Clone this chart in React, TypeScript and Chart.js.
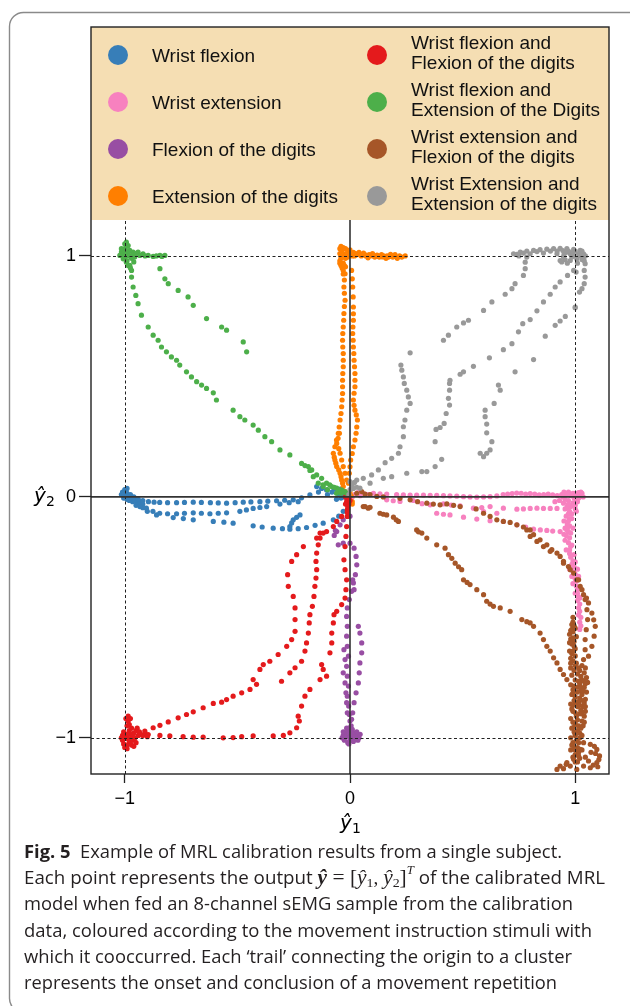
import React, { useEffect, useRef } from "react";
import { Chart, registerables } from "chart.js";

Chart.register(...registerables);

type P = [number, number];

const SERIES_NAMES: string[][] = [
  ["Wrist flexion"],
  ["Wrist extension"],
  ["Flexion of the digits"],
  ["Extension of the digits"],
  ["Wrist flexion and", "Flexion of the digits"],
  ["Wrist flexion and", "Extension of the Digits"],
  ["Wrist extension and", "Flexion of the digits"],
  ["Wrist Extension and", "Extension of the digits"],
];
const SERIES_COLORS = ["#377eb8", "#f781bf", "#984ea3", "#ff7f00", "#e41a1c", "#4daf4a", "#a65628", "#999999"];

const X_TICKS = [-1, 0, 1];
const X_TICK_LABELS = ["\u22121", "0", "1"];
const Y_TICKS = [-1, 0, 1];
const Y_TICK_LABELS = ["\u22121", "0", "1"];

const WRIST_FLEXION: P[] = [
  [-1.01, 0.02], [-1.0, 0.03], [-0.99, 0.015], [-1.0, 0.0], [-0.985, 0.005], [-0.97, -0.005], [-0.99, -0.01], [-0.96, -0.005],
  [-1.015, 0.01], [-0.995, 0.025], [-0.975, 0.01], [-0.95, -0.01], [-0.965, -0.02], [-0.945, -0.025], [-0.98, -0.015], [-1.005, -0.005],
  [-0.99, 0.0], [-0.975, -0.005], [-0.955, -0.015], [-0.935, -0.02], [-0.935, -0.03], [-0.92, -0.03], [-0.92, -0.045], [-0.95, -0.035],
  [-0.99, 0.035], [-1.005, 0.015], [-0.96, 0.0], [-0.94, -0.01],
  [-0.92, -0.015], [-0.895, -0.02], [-0.87, -0.022], [-0.845, -0.023], [-0.81, -0.024], [-0.77, -0.024], [-0.735, -0.023], [-0.696, -0.022],
  [-0.66, -0.023], [-0.62, -0.024], [-0.585, -0.025], [-0.548, -0.026], [-0.51, -0.024], [-0.474, -0.022], [-0.44, -0.021], [-0.4, -0.02],
  [-0.365, -0.018], [-0.326, -0.016], [-0.29, -0.014], [-0.252, -0.012], [-0.215, -0.004], [-0.178, 0.008], [-0.14, 0.02], [-0.104, 0.029],
  [-0.07, 0.032], [-0.044, 0.032],
  [-0.904, -0.047], [-0.875, -0.06], [-0.845, -0.068], [-0.81, -0.07], [-0.77, -0.07], [-0.735, -0.068], [-0.696, -0.066], [-0.66, -0.068],
  [-0.622, -0.07], [-0.585, -0.068], [-0.548, -0.066], [-0.489, -0.06], [-0.46, -0.054], [-0.43, -0.048], [-0.4, -0.044], [-0.37, -0.04],
  [-0.311, -0.03], [-0.27, -0.024], [-0.23, -0.02],
  [-0.933, -0.04], [-0.9, -0.06], [-0.859, -0.075], [-0.785, -0.086], [-0.74, -0.09], [-0.696, -0.095], [-0.607, -0.102], [-0.56, -0.105],
  [-0.519, -0.109], [-0.43, -0.12], [-0.39, -0.125], [-0.341, -0.13], [-0.3, -0.132], [-0.267, -0.134], [-0.23, -0.132], [-0.193, -0.127],
  [-0.155, -0.118], [-0.119, -0.109], [-0.074, -0.095], [-0.05, -0.08], [-0.03, -0.06],
  [-0.267, -0.123], [-0.259, -0.108], [-0.252, -0.095], [-0.237, -0.085], [-0.222, -0.075],
  [-0.03, 0.0], [-0.05, 0.01], [-0.08, 0.02], [-0.015, -0.005], [-0.06, -0.01], [-0.1, 0.01], [-0.148, 0.043], [-0.126, 0.035],
  [-0.02, 0.01], [-0.04, -0.005], [-0.01, 0.0],
];

const WRIST_EXTENSION: P[] = [
  [1.0, 0.0], [1.01, 0.01], [0.99, 0.015], [1.02, 0.005], [0.98, 0.005], [0.96, 0.008], [0.94, 0.01], [0.97, -0.015],
  [0.99, -0.025], [1.0, -0.035], [1.01, -0.02], [1.03, 0.015], [0.92, 0.005], [0.9, 0.008], [0.88, 0.012], [0.86, 0.01],
  [0.84, 0.008], [0.82, 0.012], [0.8, 0.014], [0.78, 0.012], [0.76, 0.015], [0.74, 0.016], [0.72, 0.014], [0.7, 0.012],
  [0.68, 0.01], [1.025, 0.02], [1.035, 0.0], [0.955, -0.01], [0.93, -0.015], [0.91, -0.02], [0.95, 0.02], [0.97, 0.02],
  [0.985, 0.01], [1.0, 0.015], [1.015, 0.018], [0.965, 0.015], [0.945, 0.0], [0.995, -0.005], [1.015, -0.005], [0.98, -0.04],
  [0.965, -0.045], [1.005, -0.06], [0.985, -0.07], [0.975, -0.12], [0.98, -0.15], [0.985, -0.2], [0.995, -0.24], [1.0, -0.27],
  [1.01, -0.3], [1.015, -0.33], [1.02, -0.42], [1.025, -0.5],
  [0.965, -0.04], [0.97, -0.07], [0.975, -0.09], [0.965, -0.115], [0.97, -0.145], [0.975, -0.17], [0.98, -0.205], [0.975, -0.235],
  [0.99, -0.265], [0.995, -0.29], [1.0, -0.32], [1.005, -0.35], [1.01, -0.385], [1.015, -0.415], [1.02, -0.445], [1.02, -0.475],
  [1.025, -0.535], [0.985, -0.09], [0.99, -0.13], [0.955, -0.13], [0.95, -0.155],
  [0.059, 0.015], [0.104, 0.015], [0.133, 0.013], [0.163, 0.012], [0.207, 0.01], [0.237, 0.008], [0.267, 0.007], [0.296, 0.007],
  [0.326, 0.007], [0.356, 0.006], [0.385, 0.006], [0.415, 0.005], [0.444, 0.004], [0.474, 0.003], [0.504, 0.001], [0.533, 0.0],
  [0.563, -0.001], [0.593, 0.0], [0.622, 0.001], [0.652, 0.004],
  [0.163, -0.012], [0.192, -0.016], [0.222, -0.019], [0.281, -0.015], [0.32, -0.028], [0.356, -0.033], [0.415, -0.029], [0.45, -0.034],
  [0.489, -0.037], [0.548, -0.047], [0.585, -0.044], [0.622, -0.04], [0.681, -0.047], [0.741, -0.051], [0.77, -0.05], [0.8, -0.048],
  [0.83, -0.047], [0.859, -0.048], [0.889, -0.048], [0.919, -0.048], [0.948, -0.026],
  [0.385, -0.068], [0.415, -0.072], [0.444, -0.075], [0.504, -0.084], [0.563, -0.092], [0.593, -0.061], [0.622, -0.099], [0.652, -0.068],
  [0.681, -0.102], [0.741, -0.116], [0.78, -0.125], [0.815, -0.134], [0.845, -0.137], [0.874, -0.139], [0.9, -0.142], [0.933, -0.144],
  [0.963, -0.137],
  [0.02, 0.01], [0.035, 0.018], [0.045, 0.005], [0.08, 0.01], [0.01, 0.0],
  [0.97, -0.03], [0.975, -0.06], [0.96, -0.08], [0.97, -0.1], [0.965, -0.13], [0.96, -0.16], [0.97, -0.19], [0.975, -0.22],
  [0.98, -0.25], [0.985, -0.28], [0.99, -0.31], [1.0, -0.34], [1.005, -0.37], [1.01, -0.4], [1.01, -0.43], [1.015, -0.46],
  [1.015, -0.49], [1.02, -0.52], [1.02, -0.55], [0.99, -0.36], [1.0, -0.4], [0.985, -0.33], [0.975, -0.3], [0.955, -0.05],
  [0.95, -0.1], [0.955, -0.18], [0.96, -0.22], [1.0, -0.05], [1.005, -0.02],
];

const FLEXION_DIGITS: P[] = [
  [-0.005, -0.02], [-0.01, -0.05], [0.0, -0.08], [-0.03, -0.095], [-0.044, -0.116], [-0.059, -0.144], [-0.07, -0.16], [-0.065, -0.14],
  [-0.052, -0.199], [-0.03, -0.192], [0.0, -0.192], [0.018, -0.213], [0.027, -0.247], [0.03, -0.282], [0.024, -0.323], [0.015, -0.357],
  [0.007, -0.392], [-0.003, -0.426], [-0.012, -0.461], [-0.015, -0.496], [-0.012, -0.537], [-0.015, -0.578], [-0.012, -0.62], [-0.007, -0.661],
  [-0.015, -0.703], [-0.012, -0.744], [-0.007, -0.785], [-0.012, -0.827], [-0.006, -0.868], [-0.003, -0.903], [0.0, -0.93],
  [0.012, -0.344], [0.018, -0.385], [0.037, -0.537], [0.044, -0.565], [0.052, -0.606], [0.052, -0.647], [0.044, -0.689], [0.041, -0.73],
  [0.037, -0.772], [0.027, -0.813], [0.018, -0.854], [0.012, -0.896], [0.007, -0.923],
  [-0.027, -0.634], [-0.022, -0.675], [-0.03, -0.73], [-0.022, -0.772], [-0.018, -0.813], [-0.015, -0.854], [-0.012, -0.896],
  [-0.03, -0.99], [-0.02, -0.98], [-0.01, -0.97], [0.0, -0.99], [0.01, -1.0], [0.02, -0.98], [0.03, -0.99], [0.04, -1.0],
  [-0.025, -1.01], [-0.01, -1.02], [0.0, -1.01], [0.015, -1.015], [-0.005, -0.96], [0.005, -0.95], [0.0, -0.975], [-0.035, -1.0],
  [0.045, -0.985], [0.025, -1.005], [-0.015, -0.995], [-0.02, -0.995], [0.0, -1.0], [0.01, -0.985], [0.02, -0.995], [0.035, -1.01],
  [-0.03, -0.975], [-0.015, -0.96], [0.01, -0.965], [0.03, -0.975], [-0.005, -1.025],
];

const EXTENSION_DIGITS: P[] = [
  [-0.045, 1.03], [-0.035, 1.02], [-0.02, 1.03], [-0.01, 1.02], [0.0, 1.01], [0.01, 1.0], [0.02, 1.0], [0.03, 1.005],
  [0.05, 1.0], [0.07, 1.0], [0.09, 1.0], [0.11, 0.995], [0.13, 0.995], [0.15, 1.0], [0.17, 0.995], [0.19, 0.995],
  [0.21, 0.99], [0.23, 0.995], [0.245, 1.0], [0.2, 1.005], [0.1, 1.01], [0.06, 1.012], [-0.04, 1.0], [-0.045, 0.98],
  [-0.04, 0.96], [-0.03, 0.97], [-0.02, 0.99], [-0.035, 0.95], [-0.03, 0.94], [-0.02, 0.955], [-0.045, 1.01], [0.0, 1.025],
  [0.04, 1.015], [0.14, 1.005], [0.08, 0.992], [0.18, 1.006], [-0.025, 1.005], [0.015, 1.015], [0.12, 1.003], [0.16, 0.99],
  [-0.04, 1.04], [-0.03, 1.035], [-0.015, 1.01], [-0.04, 0.99], [-0.01, 0.995], [0.005, 1.005], [0.025, 1.01], [0.045, 1.005],
  [0.065, 1.006], [0.085, 1.005], [0.105, 1.0], [0.125, 0.998], [0.145, 0.996], [0.165, 1.0], [0.185, 0.998], [0.22, 1.0],
  [-0.045, 0.97], [-0.025, 0.96], [-0.03, 0.925],
  [-0.022, 0.926], [-0.025, 0.9], [-0.027, 0.871], [-0.025, 0.845], [-0.022, 0.816], [-0.025, 0.79], [-0.027, 0.761], [-0.028, 0.733],
  [-0.03, 0.705], [-0.032, 0.678], [-0.033, 0.65], [-0.032, 0.622], [-0.03, 0.595], [-0.03, 0.567], [-0.03, 0.54], [-0.032, 0.512],
  [-0.033, 0.484], [-0.033, 0.457], [-0.033, 0.429], [-0.035, 0.402], [-0.037, 0.374], [-0.04, 0.346], [-0.044, 0.319], [-0.048, 0.29],
  [-0.052, 0.264], [-0.06, 0.236], [-0.067, 0.208], [-0.074, 0.181], [-0.07, 0.165], [-0.067, 0.153], [-0.063, 0.14], [-0.059, 0.126],
  [-0.05, 0.112], [-0.044, 0.098], [-0.04, 0.084], [-0.037, 0.07], [-0.033, 0.057], [-0.03, 0.043], [-0.022, 0.022],
  [-0.047, 0.264], [-0.053, 0.243], [-0.059, 0.222], [-0.05, 0.2], [-0.044, 0.181], [-0.037, 0.153], [-0.03, 0.126], [-0.022, 0.098],
  [-0.015, 0.07],
  [0.007, 0.94], [0.01, 0.905], [0.012, 0.871], [0.014, 0.83], [0.015, 0.788], [0.015, 0.76], [0.015, 0.733], [0.013, 0.705],
  [0.012, 0.678], [0.014, 0.65], [0.015, 0.622], [0.017, 0.595], [0.018, 0.567], [0.02, 0.54], [0.022, 0.512], [0.022, 0.484],
  [0.022, 0.457], [0.018, 0.43], [0.015, 0.402], [0.018, 0.38], [0.022, 0.36], [0.028, 0.34], [0.033, 0.319], [0.03, 0.29],
  [0.027, 0.264], [0.022, 0.236], [0.015, 0.208], [0.01, 0.18], [0.003, 0.153], [0.0, 0.125], [-0.003, 0.098], [-0.007, 0.057],
  [0.0, 0.02], [-0.01, 0.01], [0.005, 0.005], [0.01, -0.02], [0.01, -0.03],
];

const WF_FLEX_DIGITS: P[] = [
  [-1.0, -0.99], [-0.99, -1.0], [-1.01, -1.01], [-0.98, -1.02], [-0.99, -1.03], [-1.0, -1.04], [-0.97, -1.0], [-0.96, -0.98],
  [-0.98, -0.97], [-0.99, -0.95], [-0.985, -0.93], [-0.985, -0.91], [-0.97, -0.96], [-0.95, -0.97], [-0.94, -0.99], [-0.96, -1.01],
  [-1.005, -0.975], [-0.975, -1.015], [-0.955, -1.0], [-0.93, -0.985], [-0.92, -0.99], [-1.01, -0.99], [-0.99, -1.045], [-0.975, -0.985],
  [-1.0, -1.0], [-0.985, -1.005], [-0.97, -1.03], [-1.005, -1.025], [-0.965, -0.99], [-0.945, -0.96], [-0.935, -0.975], [-0.99, -0.985],
  [-1.015, -1.0], [-0.98, -0.945], [-0.975, -0.92], [-0.995, -0.92], [-0.95, -1.02], [-0.96, -1.035], [-0.91, -0.98], [-0.9, -0.995],
  [-0.896, -0.986], [-0.844, -0.99], [-0.8, -0.992], [-0.741, -0.995], [-0.696, -0.997], [-0.652, -0.997], [-0.563, -1.0], [-0.519, -0.999],
  [-0.481, -0.995], [-0.43, -0.992], [-0.341, -0.992], [-0.296, -0.99], [-0.267, -0.979], [-0.237, -0.958], [-0.225, -0.93], [-0.23, -0.91],
  [-0.215, -0.868], [-0.2, -0.827], [-0.178, -0.799], [-0.133, -0.758], [-0.104, -0.744], [-0.119, -0.716], [-0.126, -0.696], [-0.089, -0.647],
  [-0.081, -0.606], [-0.081, -0.565], [-0.074, -0.523], [-0.071, -0.489], [-0.059, -0.475], [-0.037, -0.447], [-0.022, -0.42], [-0.018, -0.385],
  [-0.015, -0.344], [-0.022, -0.302], [-0.027, -0.261], [-0.022, -0.206], [-0.018, -0.164], [-0.015, -0.123], [-0.012, -0.081], [-0.012, -0.054],
  [-0.911, -0.972], [-0.874, -0.958], [-0.844, -0.948], [-0.807, -0.934], [-0.763, -0.917], [-0.726, -0.903], [-0.696, -0.892], [-0.652, -0.875],
  [-0.607, -0.857], [-0.57, -0.852], [-0.548, -0.841], [-0.519, -0.827], [-0.481, -0.813], [-0.444, -0.799], [-0.415, -0.778], [-0.43, -0.758],
  [-0.4, -0.716], [-0.385, -0.696], [-0.356, -0.682], [-0.319, -0.654], [-0.281, -0.62], [-0.259, -0.592], [-0.244, -0.558], [-0.244, -0.509],
  [-0.244, -0.461], [-0.252, -0.413], [-0.274, -0.371], [-0.277, -0.323], [-0.259, -0.268], [-0.237, -0.24], [-0.207, -0.206], [-0.148, -0.171],
  [-0.133, -0.15], [-0.104, -0.144], [-0.074, -0.123], [-0.059, -0.102], [-0.037, -0.081],
  [-0.304, -0.765], [-0.267, -0.73], [-0.244, -0.709], [-0.215, -0.682], [-0.2, -0.64], [-0.193, -0.606], [-0.185, -0.565], [-0.181, -0.523],
  [-0.178, -0.489], [-0.167, -0.454], [-0.16, -0.413], [-0.156, -0.371], [-0.151, -0.337], [-0.148, -0.302], [-0.151, -0.268], [-0.148, -0.233],
  [-0.141, -0.199], [-0.133, -0.171], [-0.119, -0.15],
  [-0.01, -0.01], [-0.015, -0.02], [-0.005, -0.03], [-0.02, 0.0], [-0.01, -0.04], [-0.005, 0.0], [-0.012, -0.065], [-0.02, -0.03],
  [-0.005, -0.005], [-0.015, 0.005], [0.0, -0.015],
];

const WF_EXT_DIGITS: P[] = [
  [-0.993, 1.057], [-0.985, 1.043], [-1.0, 1.03], [-1.015, 1.016], [-1.022, 1.002], [-1.007, 0.988], [-0.993, 0.974], [-0.978, 0.961],
  [-0.97, 0.94], [-0.985, 1.009], [-0.963, 1.016], [-0.941, 1.016], [-0.919, 1.009], [-0.896, 1.002], [-0.874, 0.998], [-0.844, 1.002],
  [-0.822, 1.002], [-0.933, 1.002], [-0.956, 0.995], [-1.0, 0.995], [-0.978, 1.023], [-1.007, 1.009], [-0.99, 1.0], [-0.97, 0.99],
  [-0.99, 1.04], [-1.0, 1.05], [-0.995, 1.02], [-1.01, 1.0], [-0.98, 1.0], [-0.965, 1.005], [-0.95, 1.01], [-0.99, 0.98],
  [-0.985, 0.96], [-0.975, 0.95], [-0.91, 1.0], [-0.86, 1.0], [-0.835, 0.998], [-1.015, 1.03], [-0.96, 0.975],
  [-0.97, 0.912], [-0.963, 0.871], [-0.951, 0.836], [-0.941, 0.802], [-0.926, 0.754], [-0.896, 0.705], [-0.874, 0.671], [-0.852, 0.65],
  [-0.837, 0.622], [-0.815, 0.602], [-0.793, 0.581], [-0.77, 0.567], [-0.756, 0.547], [-0.726, 0.519], [-0.704, 0.498], [-0.681, 0.478],
  [-0.659, 0.464], [-0.637, 0.45], [-0.607, 0.432], [-0.593, 0.402], [-0.519, 0.36], [-0.489, 0.333], [-0.467, 0.319], [-0.43, 0.298],
  [-0.407, 0.277], [-0.378, 0.25], [-0.348, 0.229], [-0.311, 0.195], [-0.267, 0.174], [-0.215, 0.139], [-0.185, 0.126], [-0.17, 0.112],
  [-0.148, 0.091], [-0.126, 0.077], [-0.104, 0.057], [-0.081, 0.043], [-0.059, 0.036], [-0.037, 0.029], [-0.022, 0.022],
  [-0.163, 0.084], [-0.141, 0.057], [-0.119, 0.043], [-0.2, 0.13], [-0.178, 0.11],
  [-0.844, 0.947], [-0.822, 0.905], [-0.807, 0.885], [-0.763, 0.857], [-0.719, 0.83], [-0.696, 0.795], [-0.637, 0.74], [-0.57, 0.705],
  [-0.548, 0.692], [-0.474, 0.643], [-0.459, 0.602],
  [-0.07, 0.04], [-0.05, 0.03], [-0.09, 0.05], [-0.03, 0.02], [-0.1, 0.03], [-0.12, 0.05], [-0.06, 0.015], [-0.04, 0.015],
  [-0.015, 0.015],
];

const WE_FLEX_DIGITS: P[] = [
  [0.052, 0.022], [0.067, 0.012], [0.089, 0.01], [0.119, 0.002], [0.148, 0.0], [0.067, -0.04], [0.081, -0.047], [0.03, 0.015],
  [0.059, -0.04], [0.089, -0.043], [0.133, -0.068], [0.148, -0.072], [0.163, -0.075], [0.193, -0.084], [0.205, -0.095], [0.215, -0.102],
  [0.296, -0.137], [0.304, -0.145], [0.319, -0.15], [0.341, -0.171], [0.385, -0.199], [0.422, -0.213], [0.437, -0.24], [0.452, -0.255],
  [0.467, -0.275], [0.482, -0.29], [0.496, -0.302], [0.504, -0.344], [0.52, -0.355], [0.533, -0.364], [0.563, -0.385], [0.593, -0.406],
  [0.607, -0.433], [0.622, -0.445], [0.637, -0.454], [0.667, -0.461], [0.711, -0.475], [0.763, -0.509], [0.785, -0.518], [0.8, -0.523],
  [0.815, -0.537], [0.844, -0.565], [0.859, -0.592], [0.874, -0.62], [0.889, -0.64], [0.904, -0.668], [0.919, -0.689], [0.933, -0.716],
  [0.948, -0.737], [0.963, -0.758],
  [0.222, -0.006], [0.267, -0.012], [0.3, -0.02], [0.341, -0.026], [0.37, -0.03], [0.4, -0.033], [0.43, -0.029], [0.46, -0.035],
  [0.489, -0.04], [0.56, -0.05], [0.593, -0.068], [0.622, -0.081], [0.652, -0.095], [0.681, -0.102], [0.711, -0.106], [0.741, -0.116],
  [0.77, -0.125], [0.8, -0.137], [0.815, -0.157], [0.844, -0.178], [0.874, -0.199], [0.896, -0.219], [0.919, -0.233], [0.948, -0.268],
  [0.97, -0.289], [0.993, -0.316], [1.015, -0.344], [1.022, -0.371], [1.037, -0.406], [1.05, -0.42], [1.059, -0.44], [1.074, -0.482],
  [1.082, -0.51], [1.089, -0.537], [1.084, -0.578], [1.074, -0.62], [1.059, -0.661],
  [0.785, -0.137], [0.8, -0.164], [0.83, -0.185], [0.859, -0.206], [0.889, -0.226], [0.933, -0.247], [0.948, -0.275], [0.978, -0.302],
  [1.007, -0.344], [1.03, -0.385], [1.044, -0.426], [1.052, -0.468], [1.055, -0.509], [1.049, -0.551], [1.044, -0.592], [1.044, -0.634],
  [1.037, -0.675],
  [0.985, -0.53], [0.99, -0.56], [0.98, -0.59], [0.995, -0.62], [0.985, -0.65], [0.99, -0.68], [0.98, -0.71], [1.0, -0.7],
  [1.02, -0.72], [1.04, -0.73], [0.985, -0.74], [1.0, -0.76], [1.03, -0.76], [1.05, -0.75], [0.98, -0.78], [1.01, -0.79],
  [1.04, -0.79], [0.985, -0.82], [1.0, -0.83], [1.03, -0.82], [1.045, -0.84], [0.98, -0.86], [1.01, -0.87], [1.035, -0.87],
  [0.99, -0.89], [1.02, -0.9], [1.04, -0.91], [0.98, -0.92], [1.0, -0.94], [1.03, -0.93], [0.985, -0.96], [1.01, -0.97],
  [1.0, -0.99], [0.98, -1.0], [1.02, -1.0], [0.99, -1.02], [1.01, -1.04], [0.98, -1.05], [1.0, -1.07], [0.995, -0.6],
  [1.0, -0.66], [0.975, -0.64], [0.99, -0.5], [0.985, -0.55],
  [0.99, -0.52], [1.0, -0.545], [0.975, -0.57], [1.005, -0.58], [0.985, -0.61], [1.0, -0.63], [0.98, -0.67], [1.005, -0.69],
  [1.015, -0.71], [1.03, -0.7], [1.045, -0.71], [1.055, -0.77], [1.02, -0.775], [0.99, -0.8], [1.025, -0.805], [1.05, -0.81],
  [0.995, -0.845], [1.015, -0.85], [1.04, -0.855], [0.985, -0.88], [1.025, -0.885], [1.005, -0.91], [1.045, -0.89], [0.99, -0.935],
  [1.015, -0.95], [1.035, -0.95], [0.995, -0.975], [1.02, -0.98], [1.005, -1.01], [0.985, -1.03], [1.0, -1.05], [1.015, -1.06],
  [0.99, -1.08], [1.01, -1.1], [0.96, -1.11], [1.045, -1.08], [1.07, -1.06], [1.09, -1.065], [1.1, -1.12],
  [0.995, -0.535], [0.98, -0.555], [0.99, -0.585], [0.975, -0.605], [0.99, -0.64], [0.98, -0.69], [0.995, -0.72], [1.01, -0.735],
  [1.025, -0.745], [1.04, -0.765], [1.015, -0.765], [0.995, -0.785], [1.045, -0.775], [1.025, -0.79], [1.01, -0.81], [1.035, -0.805],
  [0.99, -0.815], [1.02, -0.835], [1.005, -0.855], [1.035, -0.845], [0.99, -0.865], [1.045, -0.87], [1.02, -0.865], [1.0, -0.895],
  [1.03, -0.9], [1.01, -0.925], [1.04, -0.935], [0.995, -0.955], [1.025, -0.96], [1.0, -0.985], [1.03, -0.99], [1.015, -1.02],
  [0.995, -1.04], [1.03, -1.05], [1.02, -1.085], [1.0, -1.1],
  [0.933, -1.117], [0.963, -1.103], [0.993, -1.089], [1.007, -1.131], [1.037, -1.117], [1.067, -1.124], [1.096, -1.103], [1.108, -1.075],
  [1.096, -1.048], [1.067, -1.027], [1.037, -1.02], [1.022, -1.048], [1.015, -1.075], [0.978, -1.117], [0.948, -1.128], [0.919, -1.131],
  [1.059, -1.096], [1.08, -1.113], [1.105, -1.09], [1.085, -1.035],
];

const WE_EXT_DIGITS: P[] = [
  [0.726, 1.009], [0.756, 1.016], [0.785, 1.02], [0.815, 1.023], [0.844, 1.026], [0.874, 1.028], [0.904, 1.03], [0.933, 1.031],
  [0.963, 1.03], [0.993, 1.027], [1.022, 1.023], [1.037, 1.009], [0.948, 0.995], [0.933, 0.981], [0.978, 0.981], [1.007, 0.988],
  [1.037, 0.995], [0.8, 1.009], [0.859, 1.012], [0.741, 1.006], [0.919, 1.009], [0.978, 1.009], [1.015, 1.009], [0.96, 1.015],
  [0.99, 1.015], [1.03, 1.02], [0.955, 0.985], [0.985, 0.995],
  [0.75, 1.0], [0.77, 1.012], [0.83, 1.018], [0.89, 1.02], [0.92, 1.02], [0.945, 1.022], [0.97, 1.02], [1.0, 1.02],
  [1.02, 1.0], [1.03, 0.985], [0.94, 0.975], [0.965, 0.97], [1.045, 1.0], [1.04, 0.98], [0.95, 1.005], [0.995, 1.0], [1.01, 0.97],
  [1.044, 0.968], [1.04, 0.94], [1.044, 0.912], [1.04, 0.885], [1.03, 0.864], [1.019, 0.85], [1.0, 0.788], [1.004, 0.933],
  [0.0, 0.063], [0.03, 0.07], [0.059, 0.077], [0.096, 0.091], [0.126, 0.112], [0.156, 0.142], [0.185, 0.16], [0.215, 0.181],
  [0.222, 0.208], [0.237, 0.25], [0.237, 0.291], [0.244, 0.319], [0.252, 0.36], [0.267, 0.388], [0.259, 0.415], [0.252, 0.443],
  [0.241, 0.471], [0.237, 0.498], [0.23, 0.526], [0.226, 0.547], [0.267, 0.598], [0.415, 0.65], [0.437, 0.671], [0.474, 0.705],
  [0.504, 0.722], [0.526, 0.733], [0.593, 0.774], [0.63, 0.809], [0.689, 0.841], [0.719, 0.864], [0.733, 0.885], [0.77, 0.919],
  [0.778, 0.947], [0.778, 0.974], [0.785, 0.995],
  [0.044, 0.036], [0.089, 0.057], [0.148, 0.077], [0.185, 0.084], [0.252, 0.098], [0.319, 0.105], [0.341, 0.105], [0.378, 0.126],
  [0.407, 0.156], [0.378, 0.229], [0.382, 0.28], [0.4, 0.288], [0.418, 0.305], [0.427, 0.346], [0.442, 0.381], [0.437, 0.409],
  [0.442, 0.443], [0.442, 0.471], [0.444, 0.484], [0.489, 0.509], [0.504, 0.519], [0.548, 0.542], [0.619, 0.577], [0.681, 0.611],
  [0.719, 0.636], [0.748, 0.685], [0.767, 0.719], [0.8, 0.736], [0.83, 0.772], [0.859, 0.809], [0.889, 0.841], [0.911, 0.871],
  [0.933, 0.892], [0.966, 0.919], [0.993, 0.94],
  [0.578, 0.181], [0.593, 0.167], [0.607, 0.181], [0.622, 0.195], [0.63, 0.229], [0.607, 0.266], [0.607, 0.302], [0.6, 0.333],
  [0.6, 0.36], [0.64, 0.388], [0.667, 0.443], [0.659, 0.464], [0.733, 0.519], [0.815, 0.57], [0.867, 0.667], [0.911, 0.712],
  [0.933, 0.73], [0.956, 0.749], [1.0, 0.785],
  [0.01, 0.05], [0.0, 0.03], [0.02, 0.06], [-0.005, 0.01], [0.015, 0.035], [0.03, 0.04],
];

const SERIES_DATA: P[][] = [
  WRIST_FLEXION, WRIST_EXTENSION, FLEXION_DIGITS, EXTENSION_DIGITS,
  WF_FLEX_DIGITS, WF_EXT_DIGITS, WE_FLEX_DIGITS, WE_EXT_DIGITS,
];

type Seg = { t: string; b?: boolean; i?: boolean; serif?: boolean; size?: number; dy?: number };
const CAPTION_LINES: Seg[][] = [
  [{ t: "Fig. 5", b: true }, { t: "  Example of MRL calibration results from a single subject." }],
  [
    { t: "Each point represents the output " },
    { t: "\u0177", b: true, i: true, serif: true, size: 20 },
    { t: " = [", serif: true, size: 20 },
    { t: "\u0177", i: true, serif: true, size: 20 },
    { t: "1", serif: true, size: 13, dy: 3 },
    { t: ", ", serif: true, size: 18 },
    { t: "\u0177", i: true, serif: true, size: 20 },
    { t: "2", serif: true, size: 13, dy: 3 },
    { t: "]", serif: true, size: 20 },
    { t: "T", i: true, serif: true, size: 12, dy: -10 },
    { t: " of the calibrated MRL" },
  ],
  [{ t: "model when fed an 8-channel sEMG sample from the calibration" }],
  [{ t: "data, coloured according to the movement instruction stimuli with" }],
  [{ t: "which it cooccurred. Each \u2018trail\u2019 connecting the origin to a cluster" }],
  [{ t: "represents the onset and conclusion of a movement repetition" }],
];
const CAPTION_RIGHT = [562, 605, 573, 592, 572, 557];

const segFont = (s: Seg) =>
  `${s.i ? "italic " : ""}${s.b ? "bold " : ""}${s.size || 17.5}px ${s.serif ? '"Liberation Serif"' : '"Open Sans"'}`;

const decorPlugin = {
  id: "decor",
  beforeDraw(chart: any) {
    const ctx = chart.ctx;
    ctx.save();
    ctx.fillStyle = "#fff";
    ctx.fillRect(0, 0, chart.width, chart.height);
    ctx.restore();
  },
  afterDatasetsDraw(chart: any) {
    const ctx = chart.ctx;
    const xs = chart.scales.x;
    const ys = chart.scales.y;
    const area = chart.chartArea;
    const legendBottom = 220;
    ctx.save();
    ctx.strokeStyle = "#222";
    ctx.lineWidth = 1;
    ctx.setLineDash([3, 2.5]);
    [-1, 1].forEach((v) => {
      const px = Math.round(xs.getPixelForValue(v)) + 0.5;
      ctx.beginPath();
      ctx.moveTo(px, area.bottom);
      ctx.lineTo(px, legendBottom);
      ctx.stroke();
      const py = Math.round(ys.getPixelForValue(v)) + 0.5;
      ctx.beginPath();
      ctx.moveTo(area.left, py);
      ctx.lineTo(area.right, py);
      ctx.stroke();
    });
    ctx.setLineDash([]);
    ctx.strokeStyle = "#333";
    ctx.lineWidth = 1.6;
    const x0 = xs.getPixelForValue(0);
    const y0 = ys.getPixelForValue(0);
    ctx.beginPath();
    ctx.moveTo(x0, area.bottom);
    ctx.lineTo(x0, legendBottom);
    ctx.stroke();
    ctx.beginPath();
    ctx.moveTo(area.left, y0);
    ctx.lineTo(area.right, y0);
    ctx.stroke();

    ctx.fillStyle = "#F5DEB3";
    ctx.fillRect(area.left, area.top, area.right - area.left, legendBottom - area.top);
    const rows = [55, 102, 149, 196];
    ctx.font = '19px "Liberation Sans"';
    ctx.textBaseline = "alphabetic";
    SERIES_NAMES.forEach((lines, i) => {
      const col = i < 4 ? 0 : 1;
      const ry = rows[i % 4];
      const mx = col === 0 ? 118 : 377;
      const tx = col === 0 ? 152 : 411;
      ctx.fillStyle = SERIES_COLORS[i];
      ctx.beginPath();
      ctx.arc(mx, ry, 10, 0, Math.PI * 2);
      ctx.fill();
      ctx.fillStyle = "#111";
      if (lines.length === 1) {
        ctx.fillText(lines[0], tx, ry + 7);
      } else {
        ctx.fillText(lines[0], tx, ry - 6);
        ctx.fillText(lines[1], tx, ry + 14);
      }
    });

    ctx.strokeStyle = "#222";
    ctx.lineWidth = 1.4;
    ctx.strokeRect(area.left, area.top, area.right - area.left, area.bottom - area.top);
    ctx.restore();
  },
  afterDraw(chart: any) {
    const ctx = chart.ctx;
    ctx.save();
    ctx.strokeStyle = "#8a8a8a";
    ctx.lineWidth = 1.4;
    ctx.beginPath();
    ctx.roundRect(9.5, 12.5, 640, 1000, 14);
    ctx.stroke();

    ctx.fillStyle = "#000";
    ctx.textBaseline = "alphabetic";
    ctx.textAlign = "left";
    ctx.font = 'italic 20px "DejaVu Sans"';
    ctx.fillText("\u0177", 340, 829);
    ctx.font = '14px "DejaVu Sans"';
    ctx.fillText("1", 352, 833);
    ctx.font = 'italic 20px "DejaVu Sans"';
    ctx.fillText("\u0177", 34, 502);
    ctx.font = '14px "DejaVu Sans"';
    ctx.fillText("2", 46, 506);

    ctx.fillStyle = "#231f20";
    const x0 = 24;
    CAPTION_LINES.forEach((segs, li) => {
      const widths = segs.map((s) => {
        ctx.font = segFont(s);
        return ctx.measureText(s.t).width;
      });
      const total = widths.reduce((a, b) => a + b, 0);
      const sx = (CAPTION_RIGHT[li] - x0) / total;
      ctx.save();
      ctx.translate(x0, 858 + li * 26.2);
      ctx.scale(sx, 1);
      let x = 0;
      segs.forEach((s, k) => {
        ctx.font = segFont(s);
        ctx.fillText(s.t, x, s.dy || 0);
        x += widths[k];
      });
      ctx.restore();
    });
    ctx.restore();
  },
};

export default function App() {
  const ref = useRef<HTMLCanvasElement | null>(null);
  useEffect(() => {
    if (!ref.current) return;
    const datasets = SERIES_DATA.map((d, i) => ({
      label: SERIES_NAMES[i].join(" "),
      data: d.map(([x, y]) => ({ x, y })),
      backgroundColor: SERIES_COLORS[i],
      borderColor: SERIES_COLORS[i],
      borderWidth: 0,
      pointRadius: 2.6,
      order: SERIES_DATA.length - i,
    }));
    const tickFont = { family: '"Liberation Sans"', size: 18 };
    const chart = new Chart(ref.current, {
      type: "scatter",
      data: { datasets },
      options: {
        animation: false,
        responsive: false,
        events: [],
        layout: { padding: { top: 27, right: 21, left: 0, bottom: 0 } },
        plugins: { legend: { display: false }, tooltip: { enabled: false } },
        scales: {
          x: {
            type: "linear",
            min: -1.15,
            max: 1.15,
            afterFit: (s: any) => { s.height = 232; },
            afterBuildTicks: (s: any) => { s.ticks = X_TICKS.map((v) => ({ value: v })); },
            border: { display: false },
            grid: { drawOnChartArea: false, drawTicks: true, tickLength: 9, tickColor: "#222", tickWidth: 1.3, color: "rgba(0,0,0,0)" },
            ticks: {
              autoSkip: false, maxRotation: 0, padding: 5, color: "#000", font: tickFont,
              callback: (_v: any, idx: number) => X_TICK_LABELS[idx],
            },
          },
          y: {
            type: "linear",
            min: -1.15,
            max: 1.95,
            afterFit: (s: any) => { s.width = 91; },
            afterBuildTicks: (s: any) => { s.ticks = Y_TICKS.map((v) => ({ value: v })); },
            border: { display: false },
            grid: { drawOnChartArea: false, drawTicks: true, tickLength: 12, tickColor: "#222", tickWidth: 1.3, color: "rgba(0,0,0,0)" },
            ticks: {
              autoSkip: false, padding: 3, color: "#000", font: tickFont,
              callback: (_v: any, idx: number) => Y_TICK_LABELS[idx],
            },
          },
        },
      },
      plugins: [decorPlugin],
    });
    return () => chart.destroy();
  }, []);
  return (
    <div style={{ position: "absolute", left: 0, top: 0, width: 630, height: 1006 }}>
      <canvas ref={ref} width={630} height={1006} style={{ width: 630, height: 1006, display: "block" }} />
    </div>
  );
}
